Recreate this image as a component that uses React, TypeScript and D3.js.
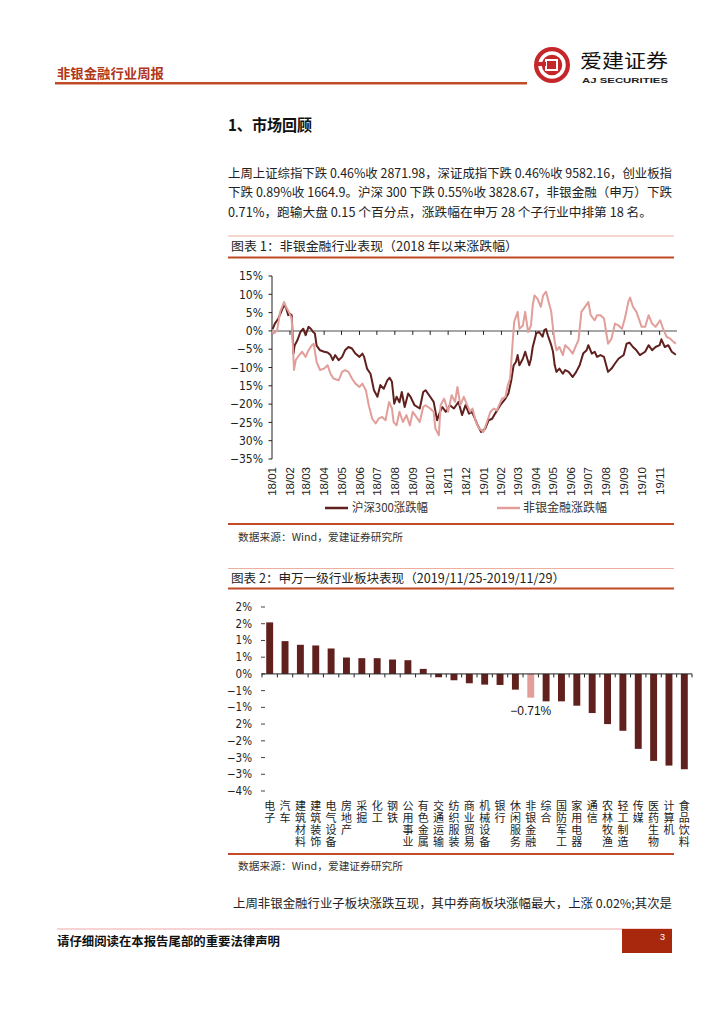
import React from 'react';
import * as d3 from 'd3';

// ---------- Data: Figure 1 (cumulative return since 2018, %) ----------
const hs300Dates = [
  '2018-01-02','2018-01-06','2018-01-12','2018-01-19','2018-01-22','2018-01-25','2018-01-29','2018-02-01','2018-02-04','2018-02-07',
  '2018-02-09','2018-02-14','2018-02-19','2018-02-24','2018-02-28','2018-03-05','2018-03-09','2018-03-13','2018-03-16','2018-03-19',
  '2018-03-25','2018-04-01','2018-04-07','2018-04-12','2018-04-16','2018-04-20','2018-04-26','2018-05-02','2018-05-07','2018-05-13',
  '2018-05-19','2018-05-25','2018-06-01','2018-06-06','2018-06-09','2018-06-14','2018-06-20','2018-06-26','2018-07-02','2018-07-07',
  '2018-07-13','2018-07-19','2018-07-23','2018-07-27','2018-07-31','2018-08-04','2018-08-09','2018-08-13','2018-08-18','2018-08-24',
  '2018-08-28','2018-09-04','2018-09-13','2018-09-19','2018-09-23','2018-10-01','2018-10-07','2018-10-13','2018-10-18','2018-10-22',
  '2018-10-28','2018-11-04','2018-11-11','2018-11-19','2018-11-25','2018-12-01','2018-12-07','2018-12-12','2018-12-16','2018-12-22',
  '2018-12-28','2019-01-04','2019-01-10','2019-01-16','2019-01-21','2019-01-30','2019-02-08','2019-02-13','2019-02-18','2019-02-22',
  '2019-02-26','2019-03-01','2019-03-04','2019-03-10','2019-03-14','2019-03-21','2019-03-24','2019-03-27','2019-04-02','2019-04-07',
  '2019-04-13','2019-04-16','2019-04-19','2019-04-22','2019-04-28','2019-05-01','2019-05-04','2019-05-07','2019-05-12','2019-05-18',
  '2019-05-22','2019-05-28','2019-06-04','2019-06-10','2019-06-16','2019-06-22','2019-06-28','2019-07-01','2019-07-07','2019-07-12',
  '2019-07-16','2019-07-22','2019-07-28','2019-08-04','2019-08-10','2019-08-16','2019-08-22','2019-08-31','2019-09-05','2019-09-10',
  '2019-09-16','2019-09-22','2019-09-28','2019-10-07','2019-10-13','2019-10-19','2019-10-25','2019-11-01','2019-11-04','2019-11-10',
  '2019-11-16','2019-11-22','2019-11-29'
];
const hs300Values = [
  0.5, 2, 3.4, 6, 7, 6.5, 4.3, 4.7, 4.3, -6.2,
  -4, -2.5, -0.3, 0.6, -1.2, 1.1, 0.6, -0.3, -0.7, -4,
  -5.3, -5.7, -5.9, -6.6, -8, -6.6, -8, -7.1, -5.3, -4.4,
  -4.8, -6.2, -7.1, -6.2, -7.1, -10.3, -11.7, -16.2, -18, -14.8,
  -15.8, -13.5, -12.8, -13.9, -19.9, -18, -19.5, -16.7, -20.8, -17.1,
  -18, -20.3, -21.2, -16.7, -16.2, -18, -19.4, -24.4, -22.1, -20.8,
  -22.1, -20.3, -21.2, -19.4, -23, -20.3, -22.6, -22.1, -23.5, -25.8,
  -27.6, -26.7, -24.4, -24, -22.6, -20.3, -18.5, -17.1, -13.5, -9.4,
  -8.5, -6.6, -9.4, -7.6, -5.7, -9.4, -7.6, -4.4, -0.7, -0.3,
  -1.6, 0.2, 0.5, -1.2, -3.9, -5.7, -9.4, -11.2, -10.3, -11.7,
  -10.7, -11.2, -12.6, -11.2, -9.4, -6.2, -5.3, -3.9, -6.2, -5.7,
  -7.1, -6.6, -7.1, -11.2, -10.3, -8.9, -7.6, -6.6, -3.5, -3.2,
  -4.4, -5.3, -6.6, -5.7, -3.9, -5.3, -4.4, -3.9, -2.3, -4.4,
  -3.9, -5.7, -6.5
];
const nonbankDates = [
  '2018-01-02','2018-01-04','2018-01-10','2018-01-15','2018-01-22','2018-01-25','2018-01-30','2018-02-04','2018-02-08','2018-02-11',
  '2018-02-17','2018-02-22','2018-02-28','2018-03-05','2018-03-11','2018-03-14','2018-03-19','2018-03-25','2018-04-01','2018-04-07',
  '2018-04-12','2018-04-17','2018-04-26','2018-05-02','2018-05-07','2018-05-13','2018-05-19','2018-05-25','2018-06-01','2018-06-06',
  '2018-06-12','2018-06-17','2018-06-23','2018-06-29','2018-07-04','2018-07-10','2018-07-16','2018-07-22','2018-07-27','2018-07-30',
  '2018-08-04','2018-08-09','2018-08-15','2018-08-21','2018-08-27','2018-09-01','2018-09-07','2018-09-13','2018-09-19','2018-09-23',
  '2018-10-01','2018-10-07','2018-10-10','2018-10-16','2018-10-19','2018-10-25','2018-11-01','2018-11-07','2018-11-13','2018-11-17',
  '2018-11-22','2018-11-28','2018-12-04','2018-12-09','2018-12-13','2018-12-19','2018-12-25','2019-01-01','2019-01-07','2019-01-13',
  '2019-01-19','2019-01-24','2019-02-02','2019-02-08','2019-02-12','2019-02-16','2019-02-20','2019-02-23','2019-03-01','2019-03-04',
  '2019-03-10','2019-03-14','2019-03-19','2019-03-24','2019-03-27','2019-03-30','2019-04-04','2019-04-10','2019-04-14','2019-04-19',
  '2019-04-22','2019-04-28','2019-05-01','2019-05-04','2019-05-07','2019-05-12','2019-05-18','2019-05-22','2019-05-28','2019-06-04',
  '2019-06-10','2019-06-14','2019-06-19','2019-06-23','2019-07-01','2019-07-05','2019-07-12','2019-07-16','2019-07-22','2019-07-28',
  '2019-08-04','2019-08-10','2019-08-16','2019-08-22','2019-08-28','2019-09-02','2019-09-08','2019-09-11','2019-09-16','2019-09-22',
  '2019-10-01','2019-10-07','2019-10-13','2019-10-19','2019-10-25','2019-11-02','2019-11-07','2019-11-13','2019-11-19','2019-11-25',
  '2019-11-29'
];
const nonbankValues = [
  0, -0.7, 0.2, 5.2, 7.9, 6.6, 5.2, 3.4, -10.7, -8,
  -6.6, -5.7, -7.1, -5.3, -3.9, -3.5, -8.5, -10.7, -10.3, -9.4,
  -11.7, -13, -13.5, -11.2, -10.7, -11.2, -13, -14.4, -15.3, -14.4,
  -16.2, -20.3, -24, -25.3, -24, -23.5, -24.4, -19.4, -21.2, -25,
  -25.8, -22.1, -24.9, -23, -25.8, -22.1, -23.5, -24.9, -20.8, -20.3,
  -21.2, -22.1, -26.7, -28.5, -20.3, -18.5, -22.1, -17.6, -19.4, -15.3,
  -20.3, -18, -20.3, -22.1, -21.2, -24.9, -26.7, -27.6, -24.9, -22.1,
  -21.2, -21.7, -18.5, -18, -14.8, -13, -3.9, 2.5, 5.2, 0.6,
  1.5, 5.2, -0.3, 1.5, 7, 9.7, 8.8, 6.6, 9.7, 10.7,
  8.8, 5.2, 0.6, -3, -5.3, -4.4, -6.6, -3.9, -4.8, -6.2,
  -3.9, -2.5, 5.2, 6.1, 7.9, 4.3, 2.9, 4.3, 4.3, 3.4,
  -3.5, -2.1, 2, 1.5, 0.6, 3.4, 7.9, 9.1, 6.6, 5.2,
  1.1, 1.1, 4.3, 2, 1.1, 2.9, 0.6, -1.6, -2.1, -3,
  -3.5
];
const lineYTicks = [15, 10, 5, 0, -5, -10, -15, -20, -25, -30, -35];
const lineYTickLabels = ['15%', '10%', '5%', '0%', '−5%', '−10%', '15%', '−20%', '−25%', '30%', '−35%'];
const seriesNames = ['沪深300涨跌幅', '非银金融涨跌幅'];

// ---------- Data: Figure 2 (weekly return of SW level-1 industries, %) ----------
const industries = ['电子', '汽车', '建筑材料', '建筑装饰', '电气设备', '房地产', '采掘', '化工', '钢铁', '公用事业',
  '有色金属', '交通运输', '纺织服装', '商业贸易', '机械设备', '银行', '休闲服务', '非银金融', '综合', '国防军工',
  '家用电器', '通信', '农林牧渔', '轻工制造', '传媒', '医药生物', '计算机', '食品饮料'];
const industryReturns = [1.54, 0.98, 0.87, 0.85, 0.76, 0.49, 0.47, 0.47, 0.43, 0.41,
  0.15, -0.10, -0.19, -0.28, -0.32, -0.33, -0.47, -0.71, -0.82, -0.82,
  -0.95, -1.17, -1.50, -1.70, -2.24, -2.60, -2.74, -2.85];
const barYTicks = [2, 1.5, 1, 0.5, 0, -0.5, -1, -1.5, -2, -2.5, -3, -3.5];
const barYTickLabels = ['2%', '2%', '1%', '1%', '0%', '−1%', '−1%', '2%', '−2%', '−3%', '−3%', '−4%'];
const highlightIndustry = '非银金融';
const highlightLabel = '−0.71%';

// ---------- Styles ----------
const DARK = '#5f201e';
const PINK = '#e29e9a';
const RED = '#c24a26';
const SALMON = '#eeb09e';
const CJK = '"Noto Sans CJK SC", "Noto Sans", sans-serif';
const LAT = '"Liberation Sans", Arial, sans-serif';
const NARROW = '"Liberation Sans Narrow", "DejaVu Sans Condensed", "Liberation Sans", Arial, sans-serif';

export default function App() {
  const parse = d3.timeParse('%Y-%m-%d');
  const hs300 = hs300Dates.map((d, i) => [parse(d) as Date, hs300Values[i]] as [Date, number]);
  const nonbank = nonbankDates.map((d, i) => [parse(d) as Date, nonbankValues[i]] as [Date, number]);

  // Figure 1 scales
  const x1 = d3.scaleTime().domain([new Date(2018, 0, 1), new Date(2019, 11, 1)]).range([272, 677]);
  const y1 = d3.scaleLinear().domain([-35, 15]).range([459, 276]);
  const line = d3.line<[Date, number]>().x(d => x1(d[0])).y(d => y1(d[1]));
  const months = d3.timeMonth.range(new Date(2018, 0, 1), new Date(2019, 11, 1));
  const fmtMonth = d3.timeFormat('%y/%m');

  // Figure 2 scales
  const x2 = d3.scaleBand<string>().domain(industries).range([262, 692]).paddingInner(0.55).paddingOuter(0.275);
  const y2 = d3.scaleLinear().domain([-3.5, 2]).range([791, 607]);
  const step = x2.step();

  const para1 = [
    '上周上证综指下跌 0.46%收 2871.98，深证成指下跌 0.46%收 9582.16，创业板指',
    '下跌 0.89%收 1664.9。沪深 300 下跌 0.55%收 3828.67，非银金融（申万）下跌',
    '0.71%，跑输大盘 0.15 个百分点，涨跌幅在申万 28 个子行业中排第 18 名。',
  ];
  const paraLens = [444, 444, 424];

  return (
    <svg width={724} height={1024} style={{ position: 'absolute', left: 0, top: 0, background: '#fff' }}>
      {/* Header */}
      <text x={57} y={78} fontFamily={CJK} fontSize={13} fontWeight="bold" fill="#b0361a" textLength={107} lengthAdjust="spacingAndGlyphs">非银金融行业周报</text>
      <rect x={55} y={82} width={472} height={2.5} fill={RED} />
      {/* Logo */}
      <g>
        <circle cx={552} cy={65} r={18} fill="#c4262a" />
        <circle cx={552} cy={65} r={12} fill="none" stroke="#fff" strokeWidth={3.5} />
        <rect x={546} y={60} width={11} height={10} fill="#c4262a" stroke="#fff" strokeWidth={2} />
        <rect x={536} y={62} width={10} height={4} fill="#c4262a" />
      </g>
      <text x={580} y={68} fontFamily={CJK} fontSize={19} fill="#111" textLength={88} lengthAdjust="spacingAndGlyphs">爱建证券</text>
      <text x={582} y={83} fontFamily={LAT} fontSize={7.5} fontWeight="bold" fill="#222" textLength={86} lengthAdjust="spacingAndGlyphs">AJ SECURITIES</text>

      {/* Section heading */}
      <text x={228} y={131} fontFamily={CJK} fontSize={16} fontWeight="bold" fill="#111" textLength={84} lengthAdjust="spacingAndGlyphs">1、市场回顾</text>

      {/* Paragraph */}
      {para1.map((t, i) => (
        <text key={i} x={228} y={177.5 + i * 19.7} fontFamily={CJK} fontSize={12.5} fill="#222" textLength={paraLens[i]} lengthAdjust="spacingAndGlyphs">{t}</text>
      ))}

      {/* Figure 1 frame */}
      <line x1={228} x2={674} y1={236} y2={236} stroke={SALMON} strokeWidth={1} />
      <text x={231} y={251} fontFamily={CJK} fontSize={12.5} fill="#222" textLength={287} lengthAdjust="spacingAndGlyphs">图表 1：非银金融行业表现（2018 年以来涨跌幅）</text>
      <line x1={228} x2={674} y1={257.5} y2={257.5} stroke={RED} strokeWidth={2} />

      {/* Figure 1 chart */}
      <g>
        <line x1={272} x2={272} y1={276} y2={459} stroke="#222" strokeWidth={1} />
        {lineYTicks.map((v, i) => (
          <g key={v}>
            <line x1={268.5} x2={272} y1={y1(v)} y2={y1(v)} stroke="#222" strokeWidth={1} />
            <text x={263} y={y1(v)} dy="0.35em" textAnchor="end" fontFamily={NARROW} fontSize={12} fill="#222">{lineYTickLabels[i]}</text>
          </g>
        ))}
        <line x1={272} x2={677} y1={y1(0)} y2={y1(0)} stroke="#a6a6a6" strokeWidth={2} />
        {months.map((m, i) => (
          <g key={i}>
            {i > 0 && <line x1={x1(m)} x2={x1(m)} y1={y1(0)} y2={y1(0) + 4} stroke="#222" strokeWidth={1} />}
            <text transform={`translate(${x1(m)},467) rotate(-90)`} dy="0.35em" textAnchor="end" fontFamily={LAT} fontSize={11.5} fill="#222">{fmtMonth(m)}</text>
          </g>
        ))}
        <path d={line(hs300) || ''} fill="none" stroke={DARK} strokeWidth={2} strokeLinejoin="round" />
        <path d={line(nonbank) || ''} fill="none" stroke={PINK} strokeWidth={2} strokeLinejoin="round" />
        {/* Legend */}
        <line x1={325} x2={348} y1={508} y2={508} stroke={DARK} strokeWidth={2.5} />
        <text x={352} y={508} dy="0.35em" fontFamily={CJK} fontSize={12} fill="#333" textLength={76} lengthAdjust="spacingAndGlyphs">{seriesNames[0]}</text>
        <line x1={497} x2={520} y1={508} y2={508} stroke={PINK} strokeWidth={2.5} />
        <text x={523} y={508} dy="0.35em" fontFamily={CJK} fontSize={12} fill="#333" textLength={84} lengthAdjust="spacingAndGlyphs">{seriesNames[1]}</text>
      </g>
      <line x1={228} x2={674} y1={524} y2={524} stroke={RED} strokeWidth={2} />
      <text x={238} y={541} fontFamily={CJK} fontSize={10.5} fill="#333" textLength={165} lengthAdjust="spacingAndGlyphs">数据来源：Wind，爱建证券研究所</text>

      {/* Figure 2 frame */}
      <line x1={228} x2={674} y1={568.5} y2={568.5} stroke={SALMON} strokeWidth={1} />
      <text x={231} y={583} fontFamily={CJK} fontSize={12.5} fill="#222" textLength={334} lengthAdjust="spacingAndGlyphs">图表 2：申万一级行业板块表现（2019/11/25-2019/11/29）</text>
      <line x1={228} x2={674} y1={588.5} y2={588.5} stroke={RED} strokeWidth={2} />

      {/* Figure 2 chart */}
      <g>
        {barYTicks.map((v, i) => (
          <g key={i}>
            <line x1={261} x2={265} y1={y2(v)} y2={y2(v)} stroke="#444" strokeWidth={1} />
            <text x={252} y={y2(v)} dy="0.35em" textAnchor="end" fontFamily={NARROW} fontSize={11.5} fill="#222">{barYTickLabels[i]}</text>
          </g>
        ))}
        {industries.map((c, i) => {
          const v = industryReturns[i];
          const top = Math.min(y2(v), y2(0));
          const h = Math.abs(y2(v) - y2(0));
          return (
            <rect key={c} x={x2(c)} y={top} width={x2.bandwidth()} height={h} fill={c === highlightIndustry ? PINK : DARK} />
          );
        })}
        <line x1={262} x2={692} y1={y2(0)} y2={y2(0)} stroke="#222" strokeWidth={1} />
        {industries.map((c, i) => {
          const bx = (x2(c) as number) - (step - x2.bandwidth()) / 2;
          return <line key={'t' + i} x1={bx} x2={bx} y1={y2(0)} y2={y2(0) + 3.5} stroke="#222" strokeWidth={1} />;
        })}
        <line x1={692} x2={692} y1={y2(0)} y2={y2(0) + 3.5} stroke="#222" strokeWidth={1} />
        {industries.map((c) => {
          const cx = (x2(c) as number) + x2.bandwidth() / 2;
          return (
            <text key={'l' + c} x={cx} y={800} fontFamily={CJK} fontSize={11} fill="#222"
              letterSpacing={1}
              style={{ writingMode: 'vertical-rl', textOrientation: 'upright' } as any}>{c}</text>
          );
        })}
        <text x={(x2(highlightIndustry) as number) + x2.bandwidth() / 2} y={711} dy="0.35em" textAnchor="middle" fontFamily={LAT} fontSize={12} fill="#111">{highlightLabel}</text>
      </g>
      <line x1={228} x2={674} y1={854} y2={854} stroke={RED} strokeWidth={2} />
      <text x={238} y={870} fontFamily={CJK} fontSize={10.5} fill="#333" textLength={165} lengthAdjust="spacingAndGlyphs">数据来源：Wind，爱建证券研究所</text>

      {/* Following paragraph */}
      <text x={233} y={908} fontFamily={CJK} fontSize={12} fill="#222" textLength={439} lengthAdjust="spacingAndGlyphs">上周非银金融行业子板块涨跌互现，其中券商板块涨幅最大，上涨 0.02%;其次是</text>

      {/* Footer */}
      <line x1={57} x2={672} y1={929} y2={929} stroke="#f2a8a8" strokeWidth={1.2} />
      <text x={57} y={946} fontFamily={CJK} fontSize={12} fontWeight="bold" fill="#111" textLength={223} lengthAdjust="spacingAndGlyphs">请仔细阅读在本报告尾部的重要法律声明</text>
      <rect x={622} y={929} width={50} height={24} fill="#a8280e" />
      <text x={660} y={940} fontFamily={LAT} fontSize={9} fill="#fff">3</text>
    </svg>
  );
}
